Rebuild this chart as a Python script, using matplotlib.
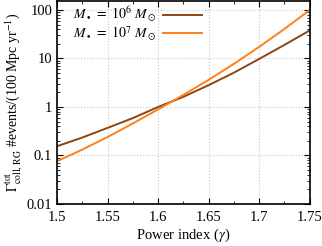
import numpy as np
import matplotlib
matplotlib.use('Agg')
import matplotlib.pyplot as plt
from matplotlib.ticker import LogLocator, FixedLocator, NullFormatter

# Data
gamma = [1.5, 1.525, 1.55, 1.575, 1.6, 1.625, 1.65, 1.675, 1.7, 1.725, 1.75]
rate_1e6 = [0.155, 0.234, 0.37, 0.59, 1.0, 1.62, 2.82, 5.1, 9.8, 19.1, 38.0]
rate_1e7 = [0.076, 0.132, 0.24, 0.457, 0.89, 1.78, 3.63, 7.76, 17.4, 40.7, 100.0]

labels = [r'$M_\bullet\ =\ 10^6\ M_\odot$', r'$M_\bullet\ =\ 10^7\ M_\odot$']
colors = ['#8b4513', '#ff7f1a']

xticks = [1.5, 1.55, 1.6, 1.65, 1.7, 1.75]
xticklabels = ['1.5', '1.55', '1.6', '1.65', '1.7', '1.75']
yticks = [0.01, 0.1, 1, 10, 100]
yticklabels = ['0.01', '0.1', '1', '10', '100']

plt.rcParams['font.family'] = ['Liberation Serif', 'DejaVu Serif']
plt.rcParams['mathtext.fontset'] = 'stix'

fig = plt.figure(figsize=(3.22, 2.46), dpi=100)
ax = fig.add_axes([0.177, 0.171, 0.785, 0.823])

for y, lab, c in zip([rate_1e6, rate_1e7], labels, colors):
    ax.plot(gamma, y, color=c, lw=1.4, label=lab)

ax.set_yscale('log')
ax.set_xlim(1.5, 1.75)
ax.set_ylim(0.01, 150)

ax.set_xticks(xticks)
ax.set_xticklabels(xticklabels)
ax.xaxis.set_minor_locator(FixedLocator([1.525, 1.575, 1.625, 1.675, 1.725]))
ax.yaxis.set_major_locator(FixedLocator(yticks))
ax.set_yticklabels(yticklabels)
ax.yaxis.set_minor_locator(LogLocator(base=10, subs=np.arange(2, 10)))
ax.yaxis.set_minor_formatter(NullFormatter())

ax.tick_params(which='both', direction='in', top=True, right=True, labelsize=10.5)
ax.tick_params(which='major', length=4, width=0.8)
ax.tick_params(which='minor', length=2, width=0.6)
ax.tick_params(axis='x', pad=5)

for s in ax.spines.values():
    s.set_linewidth(1.2)

ax.grid(True, which='major', color='#c8c8c8', ls=':', lw=0.8)

ax.set_xlabel(r'Power index ($\gamma$)', fontsize=10.5, labelpad=2)
ax.set_ylabel(r'$\Gamma^{\rm tot}_{\rm coll,\,RG}$ #events/(100 Mpc yr$^{-1}$)',
              fontsize=10, labelpad=2)

ax.legend(loc='upper left', bbox_to_anchor=(0.03, 1.025), frameon=False,
          markerfirst=False, fontsize=10, handlelength=2.8, handletextpad=0.5,
          labelspacing=0.0, borderaxespad=0.2)

fig.savefig('out.png', dpi=100)
